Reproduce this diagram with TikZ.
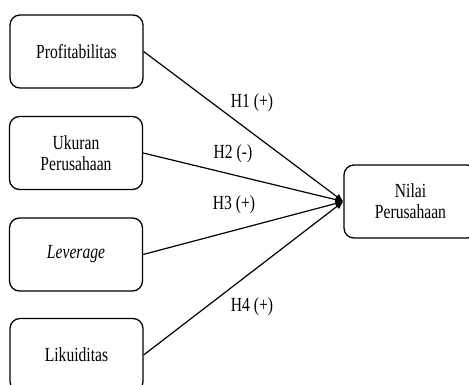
\documentclass[tikz,border=0pt]{standalone}
\usepackage{fontspec}
\setmainfont{Liberation Serif}[FakeStretch=0.78]
\usetikzlibrary{arrows.meta}
\begin{document}
\begin{tikzpicture}[x=1pt,y=-1pt,
  var/.style={draw, line width=1.3pt, rounded corners=10pt, minimum width=133pt, minimum height=73pt, align=center, inner sep=0pt, font=\fontsize{20}{21}\selectfont},
  hyp/.style={inner sep=0pt, font=\fontsize{20}{21}\selectfont},
  arr/.style={-{Latex[length=8pt,width=7pt]}, line width=1.2pt}]
\useasboundingbox (0,0) rectangle (469,385);
\node[var] (prof) at (76.5,51.5) {Profitabilitas};
\node[var] (ukuran) at (76,153) {Ukuran\\Perusahaan};
\node[var] (lev) at (76,254.5) {\textit{Leverage}};
\node[var] (likuid) at (76.5,355) {Likuiditas};
\node[var] (nilai) at (410.5,201.5) {Nilai\\Perusahaan};
\draw[arr] (prof.east) -- (nilai.west);
\draw[arr] (ukuran.east) -- (nilai.west);
\draw[arr] (lev.east) -- (nilai.west);
\draw[arr] (likuid.east) -- (nilai.west);
\node[hyp] (h1) at (252,103) {H1 (+)};
\node[hyp] (h2) at (233,154) {H2 (-)};
\node[hyp] (h3) at (234,205) {H3 (+)};
\node[hyp] (h4) at (252,307) {H4 (+)};
\end{tikzpicture}
\end{document}
